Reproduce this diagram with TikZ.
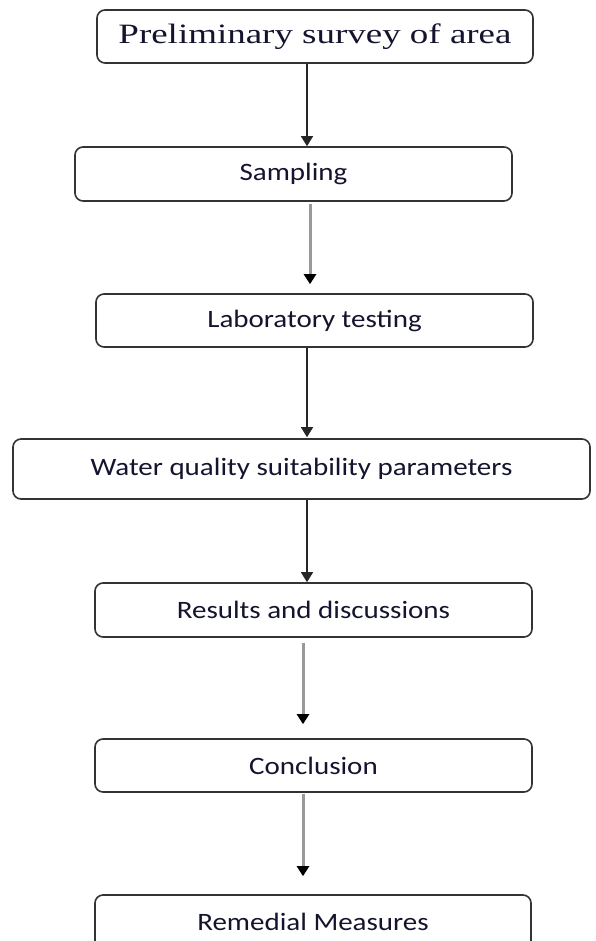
\documentclass[tikz,border=0pt]{standalone}
\usepackage{fontspec}
\usetikzlibrary{arrows.meta}
\newfontfamily\stagefont[FakeStretch=1.16]{Carlito}
\newfontfamily\titlefont[FakeStretch=1.32]{Liberation Serif}
\definecolor{inkblue}{rgb}{0.08,0.08,0.18}
\tikzset{
    stage/.style={
        draw=black!80, line width=1.6pt, rounded corners=8pt, fill=white,
        minimum width=437pt, minimum height=54pt, inner sep=0pt, text=inkblue,
        font=\stagefont\fontsize{25}{30}\selectfont
    },
    black flow/.style={
        draw=black!85, line width=1.3pt,
        -{Triangle[width=12pt,length=10pt]}
    },
    grey flow/.style={
        draw=black!40, line width=3pt,
        -{Triangle[width=12pt,length=10pt,color=black]}
    },
}

\begin{document}
\begin{tikzpicture}[x=1pt,y=-1pt]
\useasboundingbox (0,0) rectangle (595,941);

\node[stage, minimum width=436pt, minimum height=53pt,
      font=\titlefont\fontsize{28}{32}\selectfont] (survey) at (315,36.5) {Preliminary survey of area};
\node[stage] (sampling) at (293.5,174) {Sampling};
\node[stage, minimum height=53pt] (labtest) at (314.5,320.5) {Laboratory testing};
\node[stage, minimum width=577pt, minimum height=60pt] (water) at (301.5,469) {Water quality suitability parameters};
\node[stage] (results) at (313.5,610) {Results and discussions};
\node[stage, minimum height=53pt] (conclusion) at (313.5,765.5) {Conclusion};
\node[stage, minimum width=436pt] (remedial) at (313,922) {Remedial Measures};

% connectors
\draw[black flow] ([xshift=-8pt]survey.south) -- ([xshift=13.5pt]sampling.north);
\draw[grey flow, shorten <=2pt, shorten >=9pt] ([xshift=16.5pt]sampling.south) -- ([xshift=-4.5pt]labtest.north);
\draw[black flow, shorten >=1pt] ([xshift=-7.5pt]labtest.south) -- ([xshift=5.5pt]water.north);
\draw[black flow] ([xshift=5.5pt]water.south) -- ([xshift=-6.5pt]results.north);
\draw[grey flow, shorten <=5pt, shorten >=14pt] ([xshift=-10.5pt]results.south) -- ([xshift=-10.5pt]conclusion.north);
\draw[grey flow, shorten <=1pt, shorten >=18pt] ([xshift=-10.5pt]conclusion.south) -- ([xshift=-10pt]remedial.north);
\end{tikzpicture}
\end{document}
